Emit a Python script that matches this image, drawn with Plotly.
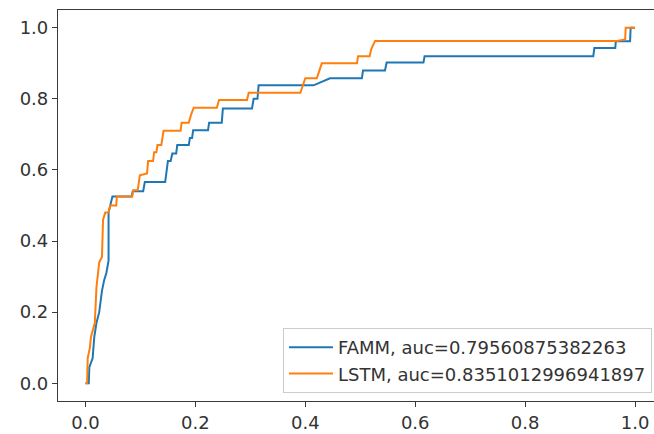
import plotly.graph_objects as go

# FAMM ROC curve vertices (false positive rate, true positive rate)
famm_fpr = [0.000, 0.006, 0.007, 0.010, 0.013, 0.016, 0.020, 0.025, 0.030, 0.034, 0.038, 0.042, 0.042,
            0.049, 0.084, 0.086, 0.105, 0.108, 0.145, 0.150, 0.155, 0.158, 0.165, 0.167, 0.188, 0.190,
            0.194, 0.196, 0.223, 0.225, 0.248, 0.250, 0.303, 0.306, 0.313, 0.315, 0.415, 0.445, 0.503,
            0.505, 0.545, 0.548, 0.615, 0.617, 0.924, 0.926, 0.964, 0.965, 0.991, 0.992, 1.000]
famm_tpr = [0.000, 0.000, 0.045, 0.060, 0.070, 0.130, 0.170, 0.200, 0.260, 0.290, 0.310, 0.345, 0.480,
            0.525, 0.525, 0.540, 0.540, 0.566, 0.566, 0.625, 0.625, 0.646, 0.646, 0.670, 0.670, 0.690,
            0.690, 0.712, 0.712, 0.733, 0.733, 0.773, 0.773, 0.800, 0.800, 0.838, 0.838, 0.858, 0.858,
            0.880, 0.880, 0.902, 0.902, 0.920, 0.920, 0.943, 0.943, 0.962, 0.962, 1.000, 1.000]

# LSTM ROC curve vertices
lstm_fpr = [0.000, 0.003, 0.004, 0.008, 0.010, 0.017, 0.020, 0.025, 0.030, 0.032, 0.036, 0.042, 0.045,
            0.056, 0.057, 0.085, 0.087, 0.095, 0.099, 0.112, 0.114, 0.123, 0.125, 0.129, 0.131, 0.138,
            0.142, 0.173, 0.175, 0.188, 0.192, 0.197, 0.239, 0.243, 0.294, 0.297, 0.391, 0.400, 0.421,
            0.430, 0.494, 0.496, 0.517, 0.520, 0.527, 0.967, 0.982, 0.983, 1.000]
lstm_tpr = [0.000, 0.000, 0.070, 0.100, 0.130, 0.170, 0.270, 0.340, 0.355, 0.460, 0.480, 0.480, 0.500,
            0.500, 0.525, 0.525, 0.543, 0.543, 0.585, 0.590, 0.625, 0.625, 0.650, 0.650, 0.670, 0.670,
            0.710, 0.710, 0.733, 0.733, 0.755, 0.775, 0.775, 0.797, 0.797, 0.817, 0.817, 0.858, 0.858,
            0.900, 0.900, 0.920, 0.920, 0.940, 0.963, 0.963, 0.967, 1.000, 1.000]

series_names = ["FAMM, auc=0.79560875382263", "LSTM, auc=0.8351012996941897"]
series_colors = ["#1f77b4", "#ff7f0e"]
tick_vals = [0.0, 0.2, 0.4, 0.6, 0.8, 1.0]
tick_text = ["0.0", "0.2", "0.4", "0.6", "0.8", "1.0"]

fig = go.Figure()
for xs, ys, name, color in zip([famm_fpr, lstm_fpr], [famm_tpr, lstm_tpr], series_names, series_colors):
    fig.add_trace(go.Scatter(x=xs, y=ys, mode="lines", name=name,
                             line=dict(color=color, width=2)))

axis_common = dict(
    showgrid=False, zeroline=False, showline=True, linecolor="#3a3a3a", linewidth=1.2,
    ticks="outside", ticklen=5, tickwidth=1, tickcolor="#3a3a3a",
    tickvals=tick_vals, ticktext=tick_text,
    tickfont=dict(family="DejaVu Sans", size=18, color="#333333"),
)

fig.update_layout(
    width=654, height=434,
    margin=dict(l=57.5, r=0, t=10, b=33),
    paper_bgcolor="white", plot_bgcolor="white",
    font=dict(family="DejaVu Sans", size=18, color="#333333"),
    xaxis=dict(range=[-0.05, 1.0345], mirror=True, **axis_common),
    yaxis=dict(range=[-0.05, 1.05], mirror=False, **axis_common),
    showlegend=True,
    legend=dict(x=0.9966, y=0.0205, xanchor="right", yanchor="bottom",
                bgcolor="rgba(255,255,255,0.8)", bordercolor="#cccccc", borderwidth=1,
                font=dict(family="DejaVu Sans", size=18, color="#333333"),
                tracegroupgap=0, itemwidth=44),
)

fig.write_html("out.html")
